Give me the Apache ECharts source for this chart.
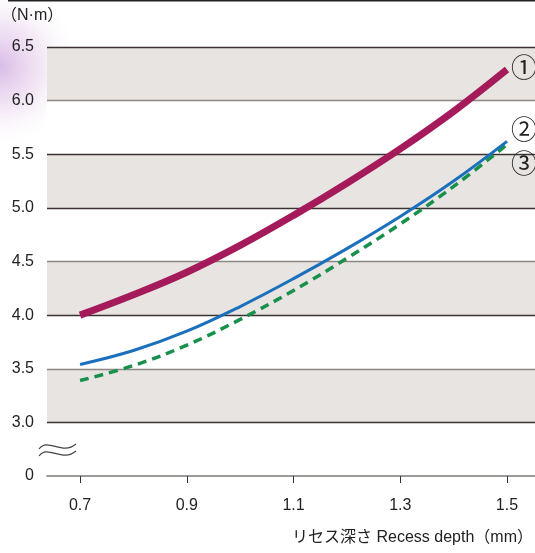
<!DOCTYPE html>
<html>
<head>
<meta charset="utf-8">
<script src="https://cdn.jsdelivr.net/npm/echarts@6/dist/echarts.min.js"></script>
<style>
html,body{margin:0;padding:0;background:#fff;}
#chart{width:535px;height:553px;}
</style>
</head>
<body>
<div id="chart"></div>
<script>
// ---- data ----
const xValues = [0.7, 0.8, 0.9, 1.0, 1.1, 1.2, 1.3, 1.4, 1.5];
const series1 = [4.00, 4.19, 4.40, 4.65, 4.93, 5.23, 5.55, 5.90, 6.29];
const series2 = [3.54, 3.67, 3.85, 4.08, 4.34, 4.62, 4.92, 5.25, 5.62];
const series3 = [3.39, 3.53, 3.72, 3.96, 4.23, 4.53, 4.85, 5.20, 5.59];
const seriesMarks = ['①', '②', '③'];
const xTickValues = [0.7, 0.9, 1.1, 1.3, 1.5];
const xTickLabels = ['0.7', '0.9', '1.1', '1.3', '1.5'];
const yTickLabels = ['0', '3.0', '3.5', '4.0', '4.5', '5.0', '5.5', '6.0', '6.5'];
const yUnit = '（N·m）';
const xTitle = 'リセス深さ Recess depth（mm）';

const pair = (ys) => xValues.map((x, i) => [x, ys[i]]);

const chart = echarts.init(document.getElementById('chart'), null, {renderer: 'canvas'});
const latin = 'Liberation Sans, Arial, sans-serif';
const mixed = 'Liberation Sans, Noto Sans CJK JP, sans-serif';
const cjk = 'Noto Sans CJK JP, sans-serif';
const dark = '#3a3331', gray = '#8c8785';
const markLabel = (txt, dy) => ({show: true, formatter: txt, fontSize: 26, color: '#222', distance: 4, offset: [0, dy], fontFamily: cjk});

chart.setOption({
  animation: false,
  backgroundColor: '#ffffff',
  textStyle: {fontFamily: latin},
  grid: {left: 47, right: 0, top: 47, bottom: 77},
  xAxis: {
    type: 'value',
    min: 0.638, max: 1.5525,
    axisLine: {show: true, lineStyle: {color: '#7d7876', width: 1.6}},
    axisTick: {show: true, customValues: xTickValues, length: 7, lineStyle: {color: '#333', width: 1}},
    axisLabel: {
      customValues: xTickValues, margin: 22, fontSize: 16, color: '#222', fontFamily: latin,
      formatter: (v) => { const i = xTickValues.findIndex(t => Math.abs(t - v) < 1e-6); return i >= 0 ? xTickLabels[i] : ''; }
    },
    splitLine: {show: false}
  },
  yAxis: {
    type: 'value',
    min: 2.5, max: 6.5, interval: 0.5,
    axisLine: {show: false},
    axisTick: {show: false},
    axisLabel: {
      margin: 13, fontSize: 16, color: '#222', fontFamily: latin,
      formatter: (v) => yTickLabels[Math.round((v - 2.5) / 0.5)]
    },
    splitLine: {show: true, lineStyle: {color: ['rgba(0,0,0,0)', dark, gray, dark, gray, dark, dark, gray, dark], width: 1.3}},
    splitArea: {show: true, areaStyle: {color: ['#ffffff', '#e8e4e1']}}
  },
  series: [
    {
      type: 'line', data: pair(series1), smooth: 0.4, symbol: 'none', z: 5,
      lineStyle: {color: '#a51a5a', width: 7, cap: 'butt'},
      endLabel: markLabel(seriesMarks[0], -2)
    },
    {
      type: 'line', data: pair(series2), smooth: 0.4, symbol: 'none', z: 4,
      lineStyle: {color: '#1b70bd', width: 3},
      endLabel: markLabel(seriesMarks[1], -12)
    },
    {
      type: 'line', data: pair(series3), smooth: 0.4, symbol: 'none', z: 3,
      lineStyle: {color: '#16904a', width: 3.5, type: [9, 6]},
      endLabel: markLabel(seriesMarks[2], 19)
    }
  ],
  graphic: [
    {
      type: 'rect', z: -10, silent: true,
      shape: {x: 0, y: 0, width: 150, height: 300},
      style: {fill: {type: 'radial', x: 0.0, y: 0.22, r: 0.55, colorStops: [
        {offset: 0, color: 'rgba(210,175,225,0.85)'},
        {offset: 0.5, color: 'rgba(230,205,235,0.5)'},
        {offset: 1, color: 'rgba(255,255,255,0)'}
      ]}}
    },
    {type: 'line', z: 10, silent: true, shape: {x1: 8, y1: 0.5, x2: 535, y2: 0.5}, style: {stroke: '#222', lineWidth: 2}},
    {type: 'text', z: 10, left: 1, top: 8, style: {text: yUnit, font: '16px ' + mixed, fill: '#222'}},
    {type: 'bezierCurve', z: 10, silent: true, shape: {x1: 39, y1: 449, cpx1: 48, cpy1: 437, cpx2: 62, cpy2: 456, x2: 76, y2: 444}, style: {stroke: '#444', lineWidth: 1.2, fill: null}},
    {type: 'bezierCurve', z: 10, silent: true, shape: {x1: 39, y1: 456, cpx1: 48, cpy1: 444, cpx2: 62, cpy2: 463, x2: 76, y2: 451}, style: {stroke: '#444', lineWidth: 1.2, fill: null}},
    {type: 'text', z: 10, right: 2, top: 530, style: {text: xTitle, font: '16px ' + mixed, fill: '#222'}}
  ]
});
</script>
</body>
</html>
